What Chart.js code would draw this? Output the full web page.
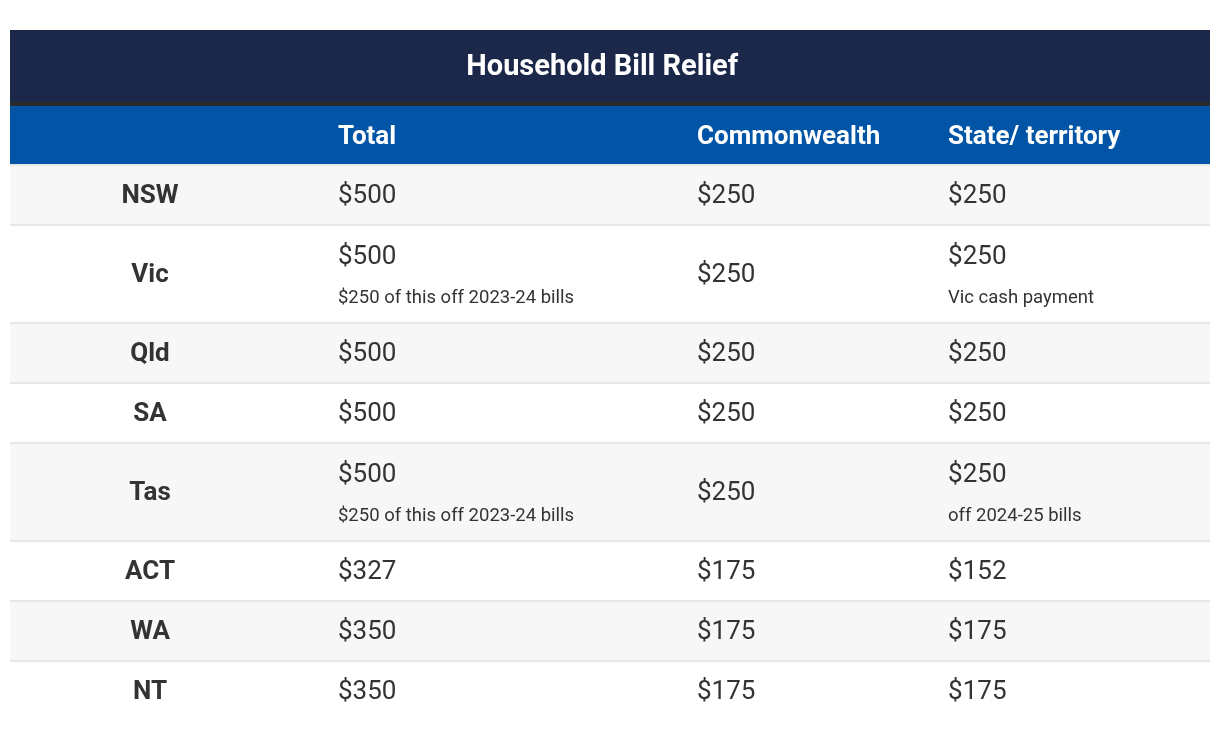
<!DOCTYPE html>
<html lang="en">
<head>
  <meta charset="UTF-8">
  <title>Household Bill Relief</title>
  <script src="https://cdn.jsdelivr.net/npm/chart.js"></script>
  <style>
    html, body { margin: 0; background: #fff; }
    #wrap { position: absolute; left: 10px; top: 30px; width: 1200px; height: 690px; }
  </style>
</head>
<body>
  <div id="wrap"><canvas id="billTable"></canvas></div>

  <script>
    // table content
    const title = 'Household Bill Relief';
    const columns = ['', 'Total', 'Commonwealth', 'State/ territory'];
    const states = ['NSW', 'Vic', 'Qld', 'SA', 'Tas', 'ACT', 'WA', 'NT'];
    const total = [500, 500, 500, 500, 500, 327, 350, 350];
    const commonwealth = [250, 250, 250, 250, 250, 175, 175, 175];
    const stateTerritory = [250, 250, 250, 250, 250, 152, 175, 175];
    const totalNotes = ['', '$250 of this off 2023-24 bills', '', '', '$250 of this off 2023-24 bills', '', '', ''];
    const stateNotes = ['', 'Vic cash payment', '', '', 'off 2024-25 bills', '', '', ''];

    // layout (y in row units, x in percent of table width)
    const TITLE_H = 1.2, RULE_H = 0.067, HEAD_H = 0.967, ROW_H = 1, TALL_H = 1.633;
    const TEXT_DY = 0.035;
    const colX = [11.67, 27.33, 57.25, 78.17];
    const FONT = 'Roboto, "Noto Sans", sans-serif';

    const hasNote = states.map((s, i) => !!(totalNotes[i] || stateNotes[i]));
    const rowTop = [];
    let acc = TITLE_H + RULE_H + HEAD_H;
    states.forEach((s, i) => { rowTop.push(acc); acc += hasNote[i] ? TALL_H : ROW_H; });
    const yMax = acc;
    const rowH = i => hasNote[i] ? TALL_H : ROW_H;
    const rowMid = i => rowTop[i] + rowH(i) / 2 + TEXT_DY;
    // a value with a note under it sits higher in the row
    const valueY = (notes, i) => notes && notes[i] ? rowTop[i] + 0.52 + TEXT_DY : rowMid(i);

    const money = v => '$' + v;
    const series = [
      { label: 'Total', values: total, notes: totalNotes, col: 1 },
      { label: 'Commonwealth', values: commonwealth, notes: null, col: 2 },
      { label: 'State/ territory', values: stateTerritory, notes: stateNotes, col: 3 }
    ];

    const tablePlugin = {
      id: 'tableCells',
      beforeDatasetsDraw(chart) {
        const { ctx, scales: { x, y } } = chart;
        const left = x.getPixelForValue(0), right = x.getPixelForValue(100);
        const w = right - left;
        const band = (y0, y1, color) => {
          const p0 = y.getPixelForValue(y0), p1 = y.getPixelForValue(y1);
          ctx.fillStyle = color;
          ctx.fillRect(left, p0, w, p1 - p0);
        };
        ctx.save();
        band(0, TITLE_H, '#1c2849');
        band(TITLE_H, TITLE_H + RULE_H, '#2b2b2b');
        band(TITLE_H + RULE_H, TITLE_H + RULE_H + HEAD_H, '#0254a6');
        states.forEach((s, i) => {
          band(rowTop[i], rowTop[i] + rowH(i), i % 2 === 0 ? '#f7f7f7' : '#ffffff');
          const py = Math.round(y.getPixelForValue(rowTop[i]));
          ctx.fillStyle = '#e7e7e7';
          ctx.fillRect(left, py, w, 2);
        });

        // title and header text
        ctx.fillStyle = '#ffffff';
        ctx.textBaseline = 'middle';
        ctx.textAlign = 'center';
        ctx.font = 'bold 29px ' + FONT;
        ctx.fillText(title, x.getPixelForValue(49.35), y.getPixelForValue(TITLE_H / 2 + TEXT_DY));
        ctx.textAlign = 'left';
        ctx.font = 'bold 26px ' + FONT;
        const headY = y.getPixelForValue(TITLE_H + RULE_H + HEAD_H / 2 + TEXT_DY);
        columns.forEach((c, j) => { if (c) ctx.fillText(c, x.getPixelForValue(colX[j]), headY); });

        // state labels
        ctx.fillStyle = '#333333';
        ctx.textAlign = 'center';
        ctx.font = 'bold 26px ' + FONT;
        states.forEach((s, i) => ctx.fillText(s, x.getPixelForValue(colX[0]), y.getPixelForValue(rowMid(i))));
        ctx.restore();
      },
      afterDatasetsDraw(chart) {
        const { ctx, scales: { y } } = chart;
        ctx.save();
        ctx.fillStyle = '#333333';
        ctx.textAlign = 'left';
        ctx.textBaseline = 'middle';
        chart.data.datasets.forEach((ds, d) => {
          const meta = chart.getDatasetMeta(d);
          const s = series[d];
          meta.data.forEach((pt, i) => {
            ctx.font = '26px ' + FONT;
            ctx.fillText(money(s.values[i]), pt.x, pt.y);
            if (s.notes && s.notes[i]) {
              ctx.font = '18.5px ' + FONT;
              ctx.fillText(s.notes[i], pt.x, y.getPixelForValue(rowTop[i] + 1.2 + TEXT_DY));
            }
          });
        });
        ctx.restore();
      }
    };

    new Chart(document.getElementById('billTable'), {
      type: 'scatter',
      data: {
        datasets: series.map(s => ({
          label: s.label,
          data: s.values.map((v, i) => ({ x: colX[s.col], y: valueY(s.notes, i) })),
          pointRadius: 0,
          pointHoverRadius: 0
        }))
      },
      options: {
        responsive: true,
        maintainAspectRatio: false,
        animation: false,
        events: [],
        layout: { padding: 0 },
        scales: {
          x: { type: 'linear', min: 0, max: 100, display: false },
          y: { type: 'linear', min: 0, max: yMax, reverse: true, display: false }
        },
        plugins: { legend: { display: false }, tooltip: { enabled: false } }
      },
      plugins: [tablePlugin]
    });
  </script>
</body>
</html>
